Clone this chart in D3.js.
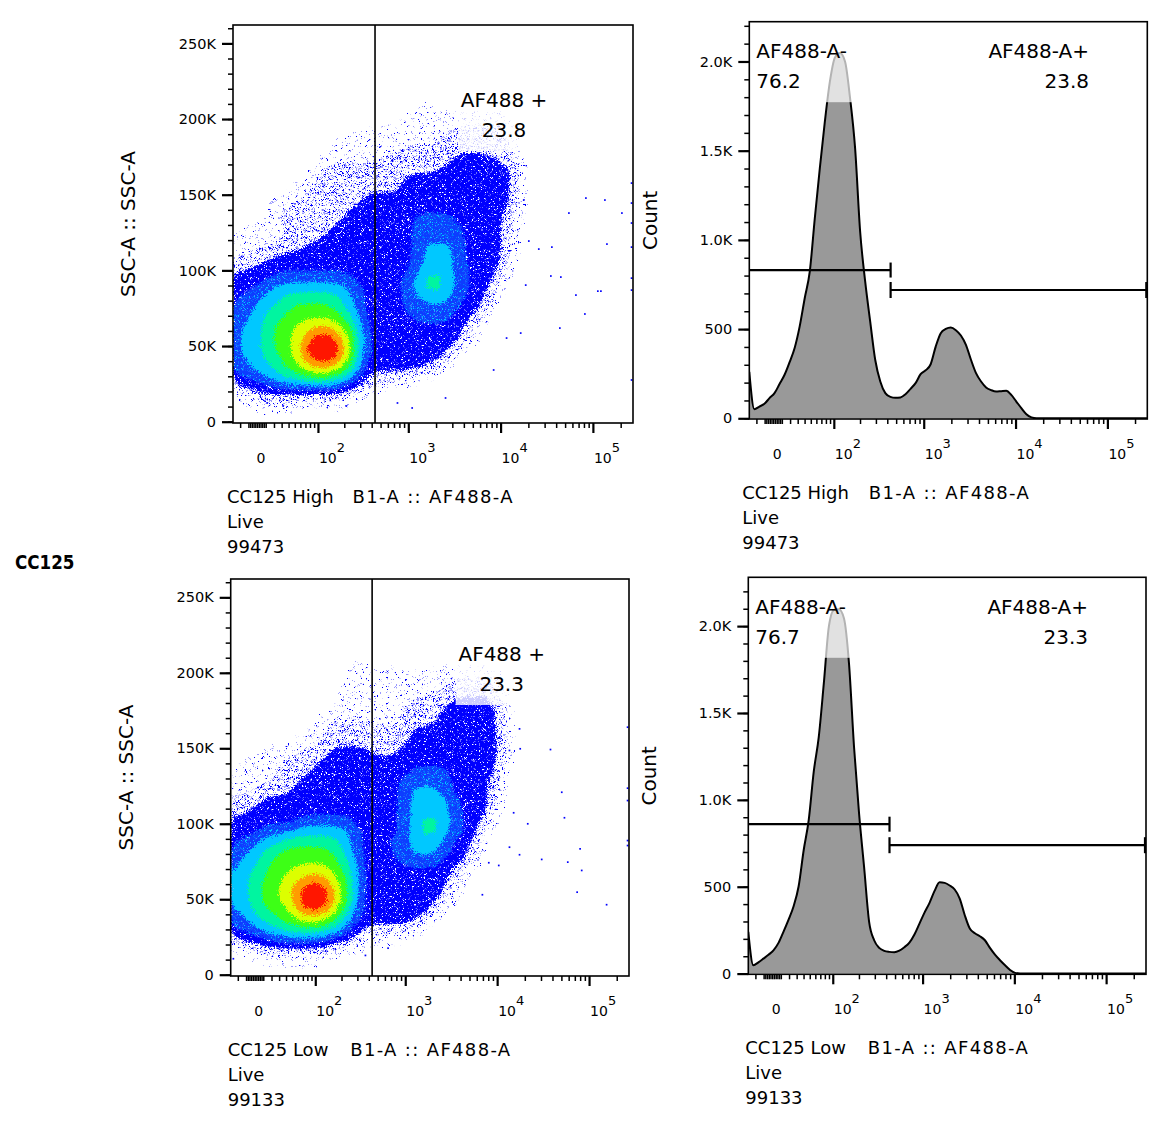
<!DOCTYPE html>
<html><head><meta charset="utf-8">
<script src="https://cdn.jsdelivr.net/npm/d3@7/dist/d3.min.js"></script>
<style>
html,body{margin:0;padding:0;background:#fff;}
svg{display:block;}
text{font-family:"DejaVu Sans","Liberation Sans",sans-serif;fill:#000;}
</style></head><body>
<svg id="fig" width="1149" height="1144" viewBox="0 0 1149 1144"></svg>
<script>
// ================= DATA =================
const groupLabel = "CC125";
const sampleNames = ["CC125 High", "CC125 Low"];
const parentGate = "Live";
const eventCounts = ["99473", "99133"];
const xParam = "B1-A :: AF488-A";
const yParamDot = "SSC-A :: SSC-A";
const yParamHist = "Count";
const dotGateName = "AF488 +";
const dotGatePercent = ["23.8", "23.3"];
const histNegName = "AF488-A-";
const histPosName = "AF488-A+";
const histNegPercent = ["76.2", "76.7"];
const histPosPercent = ["23.8", "23.3"];
const gateThreshold = 435;            // AF488-A value separating - / +
const histNegGateLevel = [831, 860];  // count level where the "-" gate bar is drawn
const histPosGateLevel = [719, 739];
const histYMax = [2223, 2281];
const sscMax = 262144;
const afDisplayRange = [-29.3, 272000];
const xMajorTicks = [100, 1000, 10000, 100000];
const xMajorExp = ["2", "3", "4", "5"];
const sscTicks = [0, 50000, 100000, 150000, 200000, 250000];
const sscTickLabels = ["0", "50K", "100K", "150K", "200K", "250K"];
const countTicks = [0, 500, 1000, 1500, 2000];
const countTickLabels = ["0", "500", "1.0K", "1.5K", "2.0K"];

// pseudocolour density (levels 0..A), 40 x 40 display bins, top row = highest SSC
const densityHigh = [
"0000000000000000000000000000000000000000",
"0000000000000000000000000000000000000000",
"0000000000000000000000000000000000000000",
"0000000000000000000000000000000000000000",
"0000000000000000000000000000000000000000",
"0000000000000000000000000000000000000000",
"0000000000000000000000000000000000000000",
"0000000000000000000000000000000000000000",
"0000000000000000001100000000000000000000",
"0000000000000000011111111111000000000000",
"0000000000000101111111222222000000000000",
"0000000000111111111112222222000000000000",
"0000000000111111122222222222000000000000",
"0000000001111112222222333322100000000000",
"0000000012222222222223333333200000000000",
"0000000122222222233333333333200000000000",
"0000001122222222233333333333100000000000",
"0000111222222333333333333333200000000000",
"0000122222223333333333333332200000000000",
"0001222222233333334444333332100000000000",
"0111112222333333334444433332000000000000",
"1111122223333333334444433332000000000000",
"1112222333333333334555433332000000000000",
"2222333333333333334555433332000000000000",
"2233333333333333334555443331000000000000",
"3333444444443333345665433320000000000000",
"3344555555544333345665443320000000000000",
"3445566666654333344555433200000000000000",
"4455667777654333344444333200000000000000",
"4456677777765333334444332000000000000000",
"4556778899875333333333320000000000000000",
"45567789AA986333333333321000000000000000",
"4556778AAAA86333333333200000000000000000",
"4556678AAAA85333333332000000000000000000",
"4455677899875333333320000000000000000000",
"3445566777654222221000000000000000000000",
"2333444444433111000000000000000000000000",
"1122222222211000000000000000000000000000",
"0011110000100000000000000000000000000000",
"0000000000000000000000000000000000000000"
];
const densityLow = [
"0000000000000000000000000000000000000000",
"0000000000000000000000000000000000000000",
"0000000000000000000000000000000000000000",
"0000000000000000000000000000000000000000",
"0000000000000000000000000000000000000000",
"0000000000000000000000000000000000000000",
"0000000000000000000000000000000000000000",
"0000000000000000000000000000000000000000",
"0000000000001100000000000000000000000000",
"0000000000001101110111111110000000000000",
"0000000000011111111111222220000000000000",
"0000000000011111111112222220000000000000",
"0000000000011111112222333331000000000000",
"0000000100111111122223333331000000000000",
"0000000002222211122223333331000000000000",
"0000000011222222223333333331000000000000",
"0000001112222222223333333332000000000000",
"0001111222333322233333333332000000000000",
"0111122223333333333333333331000000000000",
"0111122233333333334444333331000000000000",
"1111222333333333344444333320000000000000",
"1122223333333333345554333320000000000000",
"2223333333333333345555433320000000000000",
"2233333333333333345555433320000000000000",
"3333333444443333345665433200000000000000",
"3334445555554333345665443200000000000000",
"3445566666654333445554332000000000000000",
"4456677777654333445554332000000000000000",
"4556777777765333344443332000000000000000",
"4566778888765333333333210000000000000000",
"55677889A9875333333333200000000000000000",
"5567789AAA875333333332200000000000000000",
"5567789AAA975333333332000000000000000000",
"4566778AA9864333333320000000000000000000",
"4456677887754333333200000000000000000000",
"3445566666543222221000000000000000000000",
"2333444444332111100000000000000000000000",
"0122222222111000000000000000000000000000",
"0001111110000000000000000000000000000000",
"0000000000000000000000000000000000000000"
];
// isolated events [AF488-A, SSC-A]
const outliersHigh = [[83900,147800],[134800,146500],[206000,137900],[54900,137900],[35900,115400],[25900,114100],[141800,117400],[35000,96300],[44900,95600],[65400,83700],[113000,86300],[122000,86300],[81800,71200],[43800,61900],[16500,58600],[11600,55300],[8400,34200],[2530,15700],[1100,9100],[762,12400],[11.6,12400],[32,10400],[210,10400],[262000,157700],[262000,144500],[262000,131300],[262000,115400],[262000,94900],[262000,87000],[262000,27600],[18700,90300],[20200,119400],[17800,146500]];
const outliersLow = [[17500,162900],[17800,149700],[38000,149200],[13600,148600],[50400,120900],[15100,107300],[21500,100000],[53900,104000],[79800,83400],[30500,76400],[58600,74600],[83100,69100],[74100,54700],[155000,46400],[17500,79500],[13600,84500],[10400,72400],[8100,74200],[6900,53000],[367,12800],[649,17600],[-25.8,10600],[262000,164000],[262000,123600],[262000,115400],[262000,88900],[262000,85600]];
// histogram counts, 80 display channels across the AF488-A axis
const histHigh = [260,51,66,81,113,141,192,244,315,394,515,673,822,1121,1402,1664,1888,2022,2047,2000,1795,1514,1047,767,542,327,206,141,120,115,117,135,165,197,247,269,303,402,477,501,509,494,464,412,328,253,206,173,158,150,152,154,131,94,57,23,5,0,0,0,0,0,0,0,0,0,0,0,0,0,0,0,0,0,0,0,0,0,0,0];
const histLow = [240,48,65,86,108,134,177,242,311,388,503,710,883,1162,1363,1670,1997,2093,2097,2045,1786,1306,922,614,298,192,148,131,125,123,132,152,178,225,288,351,407,476,526,522,507,484,432,336,259,232,215,192,148,109,77,48,21,4,0,0,0,0,0,0,0,0,0,0,0,0,0,0,0,0,0,0,0,0,0,0,0,0,0,0];

// ================= STYLE / LAYOUT =================
const dotPanels = [
  {left:233, top:25, right:633, bottom:423, titleDx:-6},
  {left:230.7, top:579, right:629, bottom:976, titleDx:-3}
];
const histPanels = [
  {left:749.3, top:21.7, right:1147.3, bottom:419, titleDx:-7},
  {left:748.3, top:577.3, right:1146, bottom:974.3, titleDx:-3}
];
const GRID_COLS = 40;
const levelThresholds = [0.45,1.45,2.45,3.45,4.45,5.45,6.45,7.45,8.45,9.3];
const levelFills = ["url(#pd1)","url(#pd2)","url(#pd3)","url(#pd4)","#00c8ff","#00f5a0","#3cff14","#dcff00","#ff9c00","#ff1800"];

const ASINH_W = 46;
const T = v => Math.asinh(v / ASINH_W) / Math.LN10;   // logicle-like display transform

const svg = d3.select("#fig");
const defs = svg.append("defs");
function dotPattern(id, size, dots, bg) {
  const p = defs.append("pattern").attr("id", id).attr("width", size).attr("height", size)
    .attr("patternUnits", "userSpaceOnUse");
  if (bg) p.append("rect").attr("width", size).attr("height", size).attr("fill", bg);
  dots.forEach(([x, y, c]) => p.append("rect").attr("x", x).attr("y", y).attr("width", 1.4).attr("height", 1.4).attr("fill", c));
}
dotPattern("pd1", 13, [[2,3,"#0000ff"],[9,1,"#0000ff"],[5,9,"#0000ff"],[11,7,"#0000ff"]]);
dotPattern("pd2", 9, [[1,1,"#0000ff"],[5,2,"#0000ff"],[3,5,"#0000ff"],[7,6,"#0000ff"],[0,4,"#0000ff"],[4,8,"#0000ff"],[8,3,"#0000ff"]]);
dotPattern("pd3", 7, [[2,2,"#ffffff"],[5,5,"#ffffff"]], "#0606ff");
dotPattern("pd4", 6, [[1,1,"#00c8ff"],[4,3,"#00c8ff"],[2,4,"#3a8cff"]], "#0a3cff");

// speckle filter: scatters the density bands so the edges look like single events
const flt = defs.append("filter").attr("id", "speckle").attr("filterUnits", "userSpaceOnUse")
  .attr("x", 0).attr("y", 0).attr("width", 1149).attr("height", 1144);
flt.append("feTurbulence").attr("type", "fractalNoise").attr("baseFrequency", 0.9).attr("numOctaves", 2)
  .attr("seed", 7).attr("result", "noise");
flt.append("feDisplacementMap").attr("in", "SourceGraphic").attr("in2", "noise").attr("scale", 10)
  .attr("xChannelSelector", "R").attr("yChannelSelector", "G");

function makeX(p) {
  return d3.scaleLinear().domain([T(afDisplayRange[0]), T(afDisplayRange[1])]).range([p.left, p.right]);
}

function styleAxis(sel, w) {
  sel.select(".domain").remove();
  sel.selectAll(".tick line").attr("stroke", "#000").attr("stroke-width", w);
}

function drawXAxis(g, xs, p) {
  const minor = [-20,-10,-8,-6,-4,-2,0,2,4,6,8,10];
  for (let e = 1; e <= 4; e++) for (let m = 2; m <= 9; m++) minor.push(m * Math.pow(10, e));
  minor.push(200000);
  g.append("g").attr("transform", `translate(0,${p.bottom})`)
    .call(d3.axisBottom(xs).tickValues(minor.map(T)).tickSize(5).tickFormat(""))
    .call(s => styleAxis(s, 1.5));
  g.append("g").attr("transform", `translate(0,${p.bottom})`)
    .call(d3.axisBottom(xs).tickValues(xMajorTicks.map(T)).tickSize(10).tickFormat(""))
    .call(s => styleAxis(s, 2.2));
  g.append("text").attr("x", xs(T(0)) + 4).attr("y", p.bottom + 40).attr("text-anchor", "middle")
    .attr("font-size", 14).text("0");
  xMajorTicks.forEach((v, i) => {
    const t = g.append("text").attr("x", xs(T(v)) + 1).attr("y", p.bottom + 40).attr("font-size", 14);
    t.append("tspan").text("10");
    t.append("tspan").attr("dy", -11).attr("font-size", 13).text(xMajorExp[i]);
  });
}

function drawTitles(g, p, idx) {
  const x0 = p.left + p.titleDx;
  const fs = 18;
  g.append("text").attr("x", x0).attr("y", p.bottom + 80).attr("font-size", fs).text(sampleNames[idx]);
  g.append("text").attr("x", p.left + 119.5).attr("y", p.bottom + 80).attr("font-size", fs)
    .attr("textLength", 160).attr("lengthAdjust", "spacing").text(xParam);
  g.append("text").attr("x", x0).attr("y", p.bottom + 105).attr("font-size", fs).text(parentGate);
  g.append("text").attr("x", x0).attr("y", p.bottom + 130).attr("font-size", fs).text(eventCounts[idx]);
}

function drawFrame(g, p) {
  g.append("rect").attr("x", p.left).attr("y", p.top).attr("width", p.right - p.left)
    .attr("height", p.bottom - p.top).attr("fill", "none").attr("stroke", "#000").attr("stroke-width", 1.6);
}

// light 3x3 smoothing of the read density levels (display only)
function smoothGrid(vals, nC, nR) {
  const k = [1, 2, 1];
  const out = new Array(vals.length);
  for (let j = 0; j < nR; j++) for (let i = 0; i < nC; i++) {
    let s = 0, w = 0;
    for (let dj = -1; dj <= 1; dj++) for (let di = -1; di <= 1; di++) {
      const ii = i + di, jj = j + dj;
      if (ii < 0 || jj < 0 || ii >= nC || jj >= nR) continue;
      const ww = k[di + 1] * k[dj + 1];
      s += ww * vals[jj * nC + ii]; w += ww;
    }
    out[j * nC + i] = s / w;
  }
  return out;
}

// ---------------- dot plots ----------------
function dotPlot(p, rows, outliers, idx) {
  const g = svg.append("g");
  const xs = makeX(p);
  const ys = d3.scaleLinear().domain([0, sscMax]).range([p.bottom - 1.3, p.top]);
  const nC = GRID_COLS, nR = rows.length;
  const raw = [];
  rows.forEach(r => { for (let i = 0; i < nC; i++) raw.push(i < r.length ? parseInt(r[i], 16) : 0); });
  const vals = smoothGrid(raw, nC, nR);
  const gx = d3.scaleLinear().domain([0, nC]).range(xs.domain());
  const gy = d3.scaleLinear().domain([0, nR]).range([sscMax, 0]);
  const proj = d3.geoTransform({ point(x, y) { this.stream.point(xs(gx(x)), ys(gy(y))); } });
  const path = d3.geoPath(proj);
  const bands = d3.contours().size([nC, nR]).thresholds(levelThresholds)(vals);

  const cid = "clipDot" + idx;
  defs.append("clipPath").attr("id", cid).append("rect")
    .attr("x", p.left).attr("y", p.top).attr("width", p.right - p.left).attr("height", p.bottom - p.top);
  const plot = g.append("g").attr("clip-path", `url(#${cid})`);
  const dens = plot.append("g").attr("filter", "url(#speckle)");
  dens.selectAll("path.band").data(bands).join("path").attr("class", "band")
    .attr("d", path).attr("fill", (d, i) => levelFills[i]);
  plot.selectAll("rect.ev").data(outliers).join("rect").attr("class", "ev")
    .attr("x", d => xs(T(d[0])) - 0.8).attr("y", d => ys(d[1]) - 0.8)
    .attr("width", 1.7).attr("height", 1.7).attr("fill", "#0000ff");

  // gate
  g.append("line").attr("x1", xs(T(gateThreshold))).attr("x2", xs(T(gateThreshold)))
    .attr("y1", p.top).attr("y2", p.bottom).attr("stroke", "#000").attr("stroke-width", 1.6);
  // gate label with translucent box
  g.append("rect").attr("x", p.left + 225).attr("y", p.top + 62).attr("width", 93).attr("height", 64)
    .attr("fill", "#fff").attr("fill-opacity", 0.8);
  g.append("text").attr("x", p.left + 271).attr("y", p.top + 82).attr("text-anchor", "middle")
    .attr("font-size", 20).text(dotGateName);
  g.append("text").attr("x", p.left + 271).attr("y", p.top + 112).attr("text-anchor", "middle")
    .attr("font-size", 20).text(dotGatePercent[idx]);

  // axes
  g.append("g").attr("transform", `translate(${p.left},0)`)
    .call(d3.axisLeft(ys).tickValues(d3.range(0, sscMax, 10000)).tickSize(5).tickFormat(""))
    .call(s => styleAxis(s, 1.5));
  g.append("g").attr("transform", `translate(${p.left},0)`)
    .call(d3.axisLeft(ys).tickValues(sscTicks).tickSize(11).tickPadding(6).tickFormat((d, i) => sscTickLabels[i]))
    .call(s => { styleAxis(s, 2.2); s.selectAll("text").attr("font-size", 14.5).attr("font-family", "DejaVu Sans").attr("fill", "#000"); });
  drawXAxis(g, xs, p);
  g.append("text").attr("transform", `translate(${p.left - 105},${(p.top + p.bottom) / 2}) rotate(-90)`)
    .attr("text-anchor", "middle").attr("dy", "0.36em").attr("font-size", 20).text(yParamDot);
  drawTitles(g, p, idx);
  drawFrame(g, p);
}

// ---------------- histograms ----------------
function histPlot(p, counts, idx) {
  const g = svg.append("g");
  const xs = makeX(p);
  const ys = d3.scaleLinear().domain([0, histYMax[idx]]).range([p.bottom - 0.7, p.top]);
  const chan = d3.scaleLinear().domain([0, counts.length - 1]).range(xs.domain());
  const cid = "clipHist" + idx;
  defs.append("clipPath").attr("id", cid).append("rect")
    .attr("x", p.left).attr("y", p.top).attr("width", p.right - p.left).attr("height", p.bottom - p.top);
  const plot = g.append("g").attr("clip-path", `url(#${cid})`);
  const area = d3.area().x((d, i) => xs(chan(i))).y0(ys(0)).y1(d => ys(d)).curve(d3.curveMonotoneX);
  const line = d3.line().x((d, i) => xs(chan(i))).y(d => ys(d)).curve(d3.curveMonotoneX);
  plot.append("path").datum(counts).attr("d", area).attr("fill", "#999999");
  plot.append("path").datum(counts).attr("d", line).attr("fill", "none").attr("stroke", "#000").attr("stroke-width", 2);

  // gates
  const xg = xs(T(gateThreshold)), xL = xs(T(afDisplayRange[0])), xR = xs(T(afDisplayRange[1]));
  const yn = ys(histNegGateLevel[idx]), yp = ys(histPosGateLevel[idx]);
  const gs = g.append("g").attr("stroke", "#000").attr("stroke-width", 2.2);
  gs.append("line").attr("x1", xL).attr("x2", xg).attr("y1", yn).attr("y2", yn);
  gs.append("line").attr("x1", xg).attr("x2", xg).attr("y1", yn - 7.5).attr("y2", yn + 7.5);
  gs.append("line").attr("x1", xg).attr("x2", xR).attr("y1", yp).attr("y2", yp);
  gs.append("line").attr("x1", xg).attr("x2", xg).attr("y1", yp - 8).attr("y2", yp + 8);
  gs.append("line").attr("x1", xR - 1).attr("x2", xR - 1).attr("y1", yp - 8).attr("y2", yp + 8);

  // labels with translucent boxes
  g.append("rect").attr("x", p.left + 4).attr("y", p.top + 16).attr("width", 103).attr("height", 64.5)
    .attr("fill", "#fff").attr("fill-opacity", 0.7);
  g.append("text").attr("x", p.left + 7).attr("y", p.top + 36.6).attr("font-size", 20).text(histNegName);
  g.append("text").attr("x", p.left + 7).attr("y", p.top + 66.6).attr("font-size", 20).text(histNegPercent[idx]);
  g.append("text").attr("x", p.left + 339.7).attr("y", p.top + 36.6).attr("text-anchor", "end").attr("font-size", 20).text(histPosName);
  g.append("text").attr("x", p.left + 339.7).attr("y", p.top + 66.6).attr("text-anchor", "end").attr("font-size", 20).text(histPosPercent[idx]);

  // axes
  g.append("g").attr("transform", `translate(${p.left},0)`)
    .call(d3.axisLeft(ys).tickValues(d3.range(0, histYMax[idx], 100)).tickSize(5).tickFormat(""))
    .call(s => styleAxis(s, 1.5));
  g.append("g").attr("transform", `translate(${p.left},0)`)
    .call(d3.axisLeft(ys).tickValues(countTicks).tickSize(11).tickPadding(6).tickFormat((d, i) => countTickLabels[i]))
    .call(s => { styleAxis(s, 2.2); s.selectAll("text").attr("font-size", 14.5).attr("font-family", "DejaVu Sans").attr("fill", "#000"); });
  drawXAxis(g, xs, p);
  g.append("text").attr("transform", `translate(${p.left - 100},${(p.top + p.bottom) / 2}) rotate(-90)`)
    .attr("text-anchor", "middle").attr("dy", "0.36em").attr("font-size", 20).text(yParamHist);
  drawTitles(g, p, idx);
  drawFrame(g, p);
}

dotPlot(dotPanels[0], densityHigh, outliersHigh, 0);
dotPlot(dotPanels[1], densityLow, outliersLow, 1);
histPlot(histPanels[0], histHigh, 0);
histPlot(histPanels[1], histLow, 1);

svg.append("text").attr("transform", "translate(15,569) scale(0.88,1)")
  .attr("font-family", "Lato, 'Liberation Sans', sans-serif")
  .attr("font-weight", 700).attr("font-size", 19).text(groupLabel);
</script>
</body></html>
